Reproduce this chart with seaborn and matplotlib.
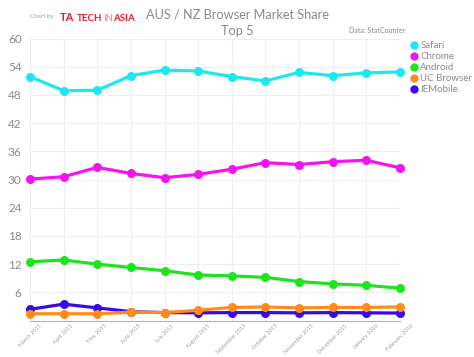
import pandas as pd
import numpy as np
import matplotlib
matplotlib.use('Agg')
import matplotlib.pyplot as plt
import seaborn as sns
from matplotlib.lines import Line2D

# Data ---------------------------------------------------------------
months = ['March 2015', 'April 2015', 'May 2015', 'June 2015', 'July 2015',
          'August 2015', 'September 2015', 'October 2015', 'November 2015',
          'December 2015', 'January 2016', 'February 2016']

safari = [51.9, 48.9, 49.0, 52.1, 53.3, 53.1, 51.9, 51.0, 52.8, 52.1, 52.7, 52.9]
chrome = [30.1, 30.6, 32.6, 31.3, 30.4, 31.1, 32.2, 33.6, 33.2, 33.8, 34.1, 32.5]
android = [12.5, 12.9, 12.0, 11.3, 10.6, 9.7, 9.5, 9.2, 8.3, 7.8, 7.5, 6.9]
uc_browser = [1.45, 1.45, 1.45, 1.8, 1.7, 2.2, 2.8, 2.9, 2.7, 2.8, 2.8, 2.9]
iemobile = [2.4, 3.5, 2.7, 1.9, 1.7, 1.65, 1.7, 1.7, 1.65, 1.7, 1.65, 1.6]

browsers = ['Safari', 'Chrome', 'Android', 'UC Browser', 'IEMobile']
colors = ['#1ee8ef', '#f514f0', '#1ee41e', '#ff8c1a', '#3a0ae6']
y_ticks = [6, 12, 18, 24, 30, 36, 42, 48, 54, 60]

# long format for seaborn
series = [safari, chrome, android, uc_browser, iemobile]
df = pd.DataFrame({
    'month': np.tile(np.arange(len(months)), len(browsers)),
    'share': np.concatenate(series),
    'browser': np.repeat(browsers, len(months)),
})

# Style --------------------------------------------------------------
sns.set_style('white')
plt.rcParams['font.family'] = ['Lato', 'DejaVu Sans']
grey = '#8a8a8a'
red = '#e8202a'

fig = plt.figure(figsize=(4.74, 3.57), dpi=100)
ax = fig.add_axes([0.0633, 0.102, 0.7806, 0.790])

# draw in reverse so Safari sits on top, like the original
for name, col in reversed(list(zip(browsers, colors))):
    sns.lineplot(data=df[df['browser'] == name], x='month', y='share',
                 color=col, linewidth=2.3, marker='o', markersize=6.5,
                 markeredgewidth=0, ax=ax, clip_on=False, zorder=3)

ax.set_xlim(0, len(months) - 1)
ax.set_ylim(0, 60)
ax.set_yticks(y_ticks)
ax.set_xticks(range(len(months)))
ax.set_xticklabels(months, rotation=45, ha='center', fontsize=4,
                   color='#a0a0a0')
ax.tick_params(axis='y', labelsize=8.5, labelcolor=grey, length=0, pad=6)
ax.tick_params(axis='x', length=0, pad=2)
ax.set_xlabel('')
ax.set_ylabel('')
ax.grid(True, color='#efefef', linewidth=0.8)
ax.set_axisbelow(True)
for side in ['top', 'right', 'left']:
    ax.spines[side].set_visible(False)
ax.spines['bottom'].set_color('#e88de8')
ax.spines['bottom'].set_linewidth(0.8)
if ax.get_legend():
    ax.get_legend().remove()

# Texts --------------------------------------------------------------
fig.text(0.5, 0.975, 'AUS / NZ Browser Market Share', ha='center', va='top',
         fontsize=9.2, color=grey)
fig.text(0.5, 0.93, 'Top 5', ha='center', va='top', fontsize=9.2, color=grey)
fig.text(0.855, 0.905, 'Data: StatCounter', ha='right', va='bottom',
         fontsize=5, color=grey)

# "Chart by" + logo, pieces chained one after another
fig.text(0.063, 0.955, 'Chart by', ha='left', va='center', fontsize=4.5,
         color='#a0a0a0')
logo = fig.text(0.127, 0.94, 'TA', ha='left', va='baseline', fontsize=8,
                color=red, fontweight='bold')
tech = ax.annotate('TECH', xy=(1, 0), xycoords=logo, xytext=(2, 0),
                   textcoords='offset points', va='bottom', fontsize=7,
                   color=red, fontweight='bold')
inn = ax.annotate('IN', xy=(1, 0), xycoords=tech, va='bottom', fontsize=7,
                  color='#f08088')
ax.annotate('ASIA', xy=(1, 0), xycoords=inn, va='bottom', fontsize=7,
            color=red, fontweight='bold')

handles = [Line2D([], [], linestyle='none', marker='o', markersize=6,
                  markerfacecolor=c, markeredgewidth=0) for c in colors]
leg = fig.legend(handles, browsers, loc='upper left',
                 bbox_to_anchor=(0.852, 0.895), frameon=False, fontsize=7,
                 handletextpad=0.1, labelspacing=0.2, borderaxespad=0,
                 handlelength=1.2)
for t in leg.get_texts():
    t.set_color(grey)

fig.savefig('out.png', dpi=100)
